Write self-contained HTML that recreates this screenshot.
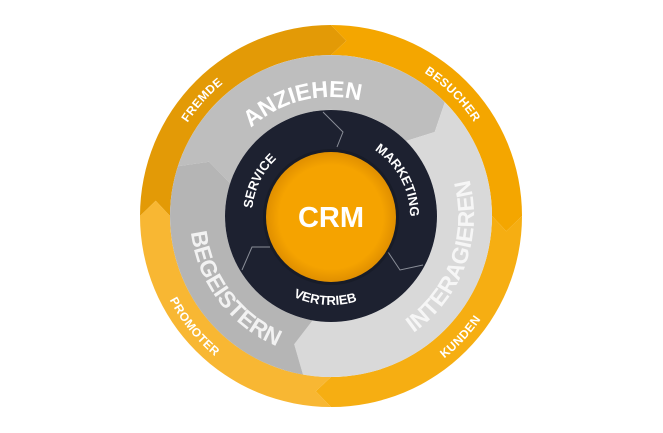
<!DOCTYPE html>
<html><head><meta charset="utf-8"><style>
html,body{margin:0;padding:0;background:#fff;width:663px;height:433px;overflow:hidden}
svg{display:block}
text{font-family:"Liberation Sans",sans-serif;font-weight:bold;fill:#fff}
</style></head><body>
<svg width="663" height="433" viewBox="0 0 663 433" xmlns="http://www.w3.org/2000/svg">
<defs>
<radialGradient id="og" cx="50%" cy="50%" r="50%">
<stop offset="0.8" stop-color="#F5A300"/><stop offset="1" stop-color="#E08F00"/>
</radialGradient>
<path id="cw171" d="M160,216 A171,171 0 1 1 502,216 A171,171 0 1 1 160,216"/>
<path id="cw119" d="M212,216 A119,119 0 1 1 450,216 A119,119 0 1 1 212,216"/>
<path id="cw79" d="M252,216 A79,79 0 1 1 410,216 A79,79 0 1 1 252,216"/>
<path id="ccw182" d="M149,216 A182,182 0 1 0 513,216 A182,182 0 1 0 149,216"/>
<path id="ccw143" d="M188,216 A143,143 0 1 0 474,216 A143,143 0 1 0 188,216"/>
<path id="ccw141" d="M190,216 A141,141 0 1 0 472,216 A141,141 0 1 0 190,216"/>
<path id="ccw89" d="M242,216 A89,89 0 1 0 420,216 A89,89 0 1 0 242,216"/>
</defs>
<!-- outer ring -->
<path d="M140,216 A191,191 0 0 1 331,25 L346.3,40.7 L331,55 A161,161 0 0 0 170,216 L155.7,200.7 Z" fill="#E39A06"/>
<path d="M331,25 A191,191 0 0 1 522,216 L506.3,231.3 L492,216 A161,161 0 0 0 331,55 L346.3,40.7 Z" fill="#F4A600"/>
<path d="M522,216 A191,191 0 0 1 331,407 L315.7,391.3 L331,377 A161,161 0 0 0 492,216 L506.3,231.3 Z" fill="#F6AE12"/>
<path d="M331,407 A191,191 0 0 1 140,216 L155.7,200.7 L170,216 A161,161 0 0 0 331,377 L315.7,391.3 Z" fill="#F8B733"/>
<!-- gray ring -->
<path d="M177.9,166.3 A161,161 0 0 1 444.8,102.2 L434.7,132 L406,141 A106,106 0 0 0 230.2,183.2 L209,161.7 Z" fill="#BEBEBE"/>
<path d="M444.8,102.2 A161,161 0 0 1 303,374.6 L294.2,344.3 L312.6,320.4 A106,106 0 0 0 406,141 L434.7,132 Z" fill="#D9D9D9"/>
<path d="M303,374.6 A161,161 0 0 1 177.9,166.3 L209,161.7 L230.2,183.2 A106,106 0 0 0 312.6,320.4 L294.2,344.3 Z" fill="#B5B5B5"/>
<!-- dark ring -->
<circle cx="331" cy="216" r="106" fill="#1D2130"/>
<polyline points="323,112 343,132 337,147" fill="none" stroke="#8a8e98" stroke-width="1"/>
<polyline points="388,252 400,270 423,265" fill="none" stroke="#8a8e98" stroke-width="1"/>
<polyline points="270,247 252,247 242,270" fill="none" stroke="#8a8e98" stroke-width="1"/>
<circle cx="331" cy="217" r="68" fill="#14171f" opacity="0.5"/>
<circle cx="331" cy="217" r="65" fill="url(#og)"/>
<text x="331" y="227" font-size="29" text-anchor="middle">CRM</text>
<!-- outer labels -->
<g transform="rotate(-48 331 216)"><text font-size="12" letter-spacing="0.5"><textPath href="#cw171" startOffset="25%" text-anchor="middle">FREMDE</textPath></text></g>
<g transform="rotate(45 331 216)"><text font-size="12" letter-spacing="0.5"><textPath href="#cw171" startOffset="25%" text-anchor="middle">BESUCHER</textPath></text></g>
<g transform="rotate(51 331 216)"><text font-size="12" letter-spacing="0.5"><textPath href="#ccw182" startOffset="25%" text-anchor="middle">PROMOTER</textPath></text></g>
<g transform="rotate(-47 331 216)"><text font-size="12" letter-spacing="0.5"><textPath href="#ccw182" startOffset="25%" text-anchor="middle">KUNDEN</textPath></text></g>
<!-- gray labels -->
<g transform="rotate(-14 331 216)"><text font-size="23" fill="#F4F4F4"><textPath href="#cw119" startOffset="25%" text-anchor="middle">ANZIEHEN</textPath></text></g>
<g transform="rotate(-70 331 216)"><text font-size="23" style="fill:#F6F6F6"><textPath href="#ccw143" startOffset="25%" text-anchor="middle">INTERAGIEREN</textPath></text></g>
<g transform="rotate(53 331 216)"><text font-size="23" style="fill:#F2F2F2"><textPath href="#ccw141" startOffset="25%" text-anchor="middle">BEGEISTERN</textPath></text></g>
<!-- dark labels -->
<g transform="rotate(-64 331 216)"><text font-size="13"><textPath href="#cw79" startOffset="25%" text-anchor="middle">SERVICE</textPath></text></g>
<g transform="rotate(62 331 216)"><text font-size="13"><textPath href="#cw79" startOffset="25%" text-anchor="middle">MARKETING</textPath></text></g>
<g transform="rotate(4 331 216)"><text font-size="13"><textPath href="#ccw89" startOffset="25%" text-anchor="middle">VERTRIEB</textPath></text></g>
</svg>
</body></html>
